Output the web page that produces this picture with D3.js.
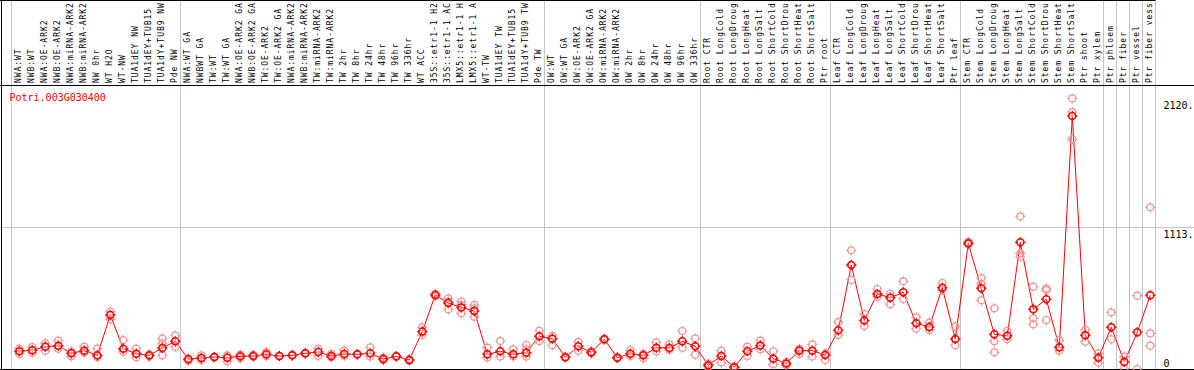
<!DOCTYPE html>
<html>
<head>
<meta charset="utf-8">
<style>
body { margin: 0; background: #fff; }
svg text { font-family: "DejaVu Sans Mono", monospace; }
</style>
</head>
<body>
<div id="chart"></div>
<script src="https://cdn.jsdelivr.net/npm/d3@7"></script>
<script>
// sample labels, left to right (as shown, cut to 14 chars)
var samples = [
	'NWA:WT', 'NWB:WT', 'NWA:OE-ARK2', 'NWB:OE-ARK2', 'NWA:miRNA-ARK2', 'NWB:miRNA-ARK2', 'NW 0hr', 'WT H2O', 'WT-NW', 'TUA1dEY NW', 'TUA1dEY+TUB15', 'TUA1dY+TUB9 NW', 'Pde NW',
	'NWA:WT GA', 'NWBWT GA', 'TW:WT', 'TW:WT GA', 'NWA:OE-ARK2 GA', 'NWB:OE-ARK2 GA', 'TW:OE-ARK2', 'TW:OE-ARK2 GA', 'NWA:miRNA-ARK2', 'NWB:miRNA-ARK2', 'TW:miRNA-ARK2', 'TW:miRNA-ARK2',
	'TW 2hr', 'TW 8hr', 'TW 24hr', 'TW 48hr', 'TW 96hr', 'TW 336hr', 'WT ACC', '35S::etr1-1 H2', '35S::etr1-1 AC', 'LMX5::etr1-1 H', 'LMX5::etr1-1 A', 'WT-TW', 'TUA1dEY TW', 'TUA1dEY+TUB15', 'TUA1dY+TUB9 TW', 'Pde TW',
	'OW:WT', 'OW:WT GA', 'OW:OE-ARK2', 'OW:OE-ARK2 GA', 'OW:miRNA-ARK2', 'OW:miRNA-ARK2', 'OW 2hr', 'OW 8hr', 'OW 24hr', 'OW 48hr', 'OW 96hr', 'OW 336hr',
	'Root CTR', 'Root LongCold', 'Root LongDroug', 'Root LongHeat', 'Root LongSalt', 'Root ShortCold', 'Root ShortDrou', 'Root ShortHeat', 'Root ShortSalt', 'Ptr root',
	'Leaf CTR', 'Leaf LongCold', 'Leaf LongDroug', 'Leaf LongHeat', 'Leaf LongSalt', 'Leaf ShortCold', 'Leaf ShortDrou', 'Leaf ShortHeat', 'Leaf ShortSalt', 'Ptr leaf',
	'Stem CTR', 'Stem LongCold', 'Stem LongDroug', 'Stem LongHeat', 'Stem LongSalt', 'Stem ShortCold', 'Stem ShortDrou', 'Stem ShortHeat', 'Stem ShortSalt', 'Ptr shoot', 'Ptr xylem',
	'Ptr phloem', 'Ptr fiber', 'Ptr vessel', 'Ptr fiber vess'
];

// mean expression per sample
var means = [
	139, 147, 175, 183, 123, 144, 107, 423, 159, 120, 107, 165, 217,
	78, 86, 94, 89, 99, 102, 115, 102, 107, 123, 133, 102, 118, 115, 123,
	78, 99, 71, 293, 580, 517, 483, 455, 115, 139, 115, 128, 256, 238,
	92, 178, 131, 233, 89, 120, 107, 167, 165, 217, 178,
	29, 102, 13, 139, 185, 81, 44, 144, 144, 110,
	303, 815, 381, 588, 559, 601, 358, 329, 637, 235,
	985, 632, 272, 261, 993, 468, 546, 170, 1983, 264, 89,
	327, 55, 288, 578
];

// replicate values per sample
var reps = [
	[118, 159], [172, 128], [201, 144], [222, 159], [136, 99], [175, 128], [159, 95], [449, 389], [227, 136], [159, 92], [112, 97], [238, 201, 107], [264, 175],
	[73, 63], [107, 71], [90, 98], [107, 60], [112, 86], [112, 97], [133, 102], [100, 104], [104, 110], [120, 126], [157, 102], [118, 91], [144, 102], [112, 118], [170, 97],
	[89, 71], [96, 102], [78, 65], [327, 266], [570, 590], [554, 468, 528], [528, 436, 502], [502, 410, 476], [167, 91], [219, 97], [154, 97], [188, 154, 97], [300, 219], [259, 186],
	[90, 96], [212, 144], [123, 140], [238, 228], [84, 94], [149, 102], [118, 84], [209, 139], [193, 149], [298, 167], [240, 112],
	[44, 18], [144, 50], [18, 8], [175, 102], [222, 154], [139, 37], [55, 29], [157, 118], [193, 97], [123, 71],
	[368, 266], [930, 698], [431, 337], [627, 567], [590, 507], [687, 549], [405, 316], [363, 306], [674, 619], [332, 186],
	[975, 995], [713, 538, 666], [476, 217, 131], [300, 233], [1197, 907, 880], [645, 397, 350], [632, 384, 619], [227, 144], [2121, 2014, 1800], [306, 214], [123, 50],
	[444, 233], [97, 3], [575, 0], [1267, 279, 183]
];

// sample index where each group starts (last one = end)
var groupStarts = [0, 13, 41, 53, 63, 73, 84, 85, 86, 87, 88];
var yTicks = [0, 1113, 2120];
var geneName = 'Potri.003G030400';

var width = 1194,
	height = 370;

var svg = d3.select('#chart')
			.append('svg')
			.attr('width', width)
			.attr('height', height);

// scales
var x = d3.scaleLinear()
		.domain([0, samples.length])
		.range([11.3, 1155.3]);
var px = i => x(i) + 8;

var y = d3.scaleLinear()
		.domain([0, 2226])
		.range([369, 85]);

// gridlines
svg.append('g').selectAll('line')
	.data(groupStarts).enter()
	.append('line')
	.attr('x1', d => Math.round(x(d)) + 0.5)
	.attr('x2', d => Math.round(x(d)) + 0.5)
	.attr('y1', 0)
	.attr('y2', 369)
	.attr('stroke', '#c4c4c4');

svg.append('line')
	.attr('x1', 0).attr('x2', width)
	.attr('y1', Math.round(y(1113)) + 0.5)
	.attr('y2', Math.round(y(1113)) + 0.5)
	.attr('stroke', '#c4c4c4');

// frame
var frame = svg.append('g').attr('stroke', '#000').attr('fill', 'none');
frame.append('line').attr('x1', 0).attr('x2', x(samples.length)).attr('y1', 0.5).attr('y2', 0.5);
frame.append('line').attr('x1', 0).attr('x2', width).attr('y1', 85.5).attr('y2', 85.5);
frame.append('line').attr('x1', 0).attr('x2', width).attr('y1', 369.5).attr('y2', 369.5);
frame.append('line').attr('x1', 1.5).attr('x2', 1.5).attr('y1', 0).attr('y2', 370);

// sample labels, vertical
svg.append('g').selectAll('text')
	.data(samples).enter()
	.append('text')
	.attr('transform', (d, i) => 'translate(' + (px(i) + 1.8) + ',83) rotate(-90)')
	.attr('font-size', '8px')
	.attr('letter-spacing', '0.95px')
	.attr('fill', '#000')
	.text(d => d);

// gene name
svg.append('text')
	.attr('x', 9.5)
	.attr('y', 100.5)
	.attr('font-size', '10px')
	.attr('fill', '#f00')
	.text(geneName);

// right axis values
svg.append('g').selectAll('text')
	.data(yTicks).enter()
	.append('text')
	.attr('x', 1163.5)
	.attr('y', d => d === 0 ? 366.5 : y(d) + 10.5)
	.attr('font-size', '10px')
	.attr('fill', '#000')
	.text(d => d === 0 ? '0' : d + '.');

// marker: circle with small ticks
function marker(r) {
	var t = r + 1.6, s = r - 1;
	return 'M' + r + ',0A' + r + ',' + r + ' 0 1,1 ' + (-r) + ',0A' + r + ',' + r + ' 0 1,1 ' + r + ',0' +
		'M0,' + (-t) + 'V' + (-s) + 'M0,' + t + 'V' + s +
		'M' + (-t) + ',0H' + (-s) + 'M' + t + ',0H' + s;
}

// mean line
var line = d3.line()
			.x((d, i) => px(i))
			.y(d => y(d));

svg.append('path')
	.datum(means)
	.attr('d', line)
	.attr('fill', 'none')
	.attr('stroke', '#f00')
	.attr('stroke-width', 1);

// replicates
var repPoints = [];
reps.forEach((r, i) => r.forEach(v => repPoints.push({ i: i, v: v })));

svg.append('g').selectAll('path')
	.data(repPoints).enter()
	.append('path')
	.attr('transform', d => 'translate(' + px(d.i) + ',' + y(d.v) + ')')
	.attr('d', marker(3.5))
	.attr('fill', 'none')
	.attr('stroke', '#eb9a9a')
	.attr('stroke-width', 1.2);

// means
svg.append('g').selectAll('path')
	.data(means).enter()
	.append('path')
	.attr('transform', (d, i) => 'translate(' + px(i) + ',' + y(d) + ')')
	.attr('d', marker(3.5))
	.attr('fill', 'none')
	.attr('stroke', '#f00')
	.attr('stroke-width', 1.5);
</script>
</body>
</html>
